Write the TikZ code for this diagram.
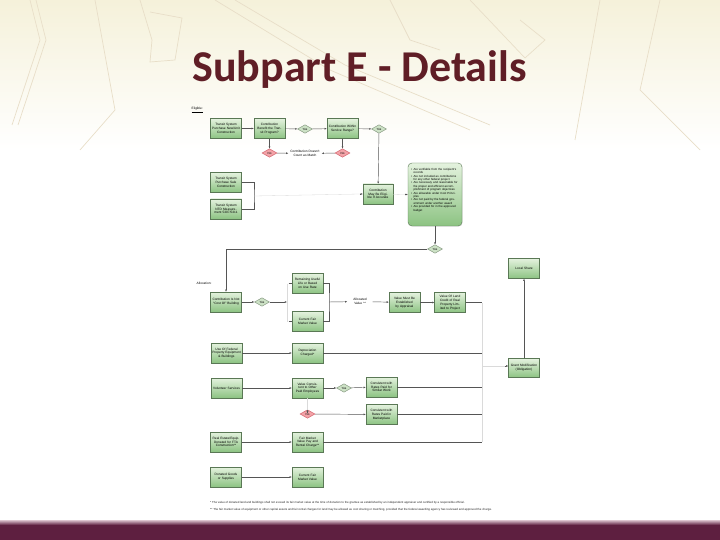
\documentclass[tikz,border=0pt]{standalone}
\usepackage{fontspec}
\setmainfont{Liberation Sans}
\newfontfamily\titlefont{Carlito}
\usetikzlibrary{shapes.geometric,arrows.meta,shadows}
\definecolor{titlecol}{RGB}{96,30,38}
\definecolor{barcol}{RGB}{94,31,64}
\definecolor{barlight}{RGB}{222,196,208}
\definecolor{cream}{RGB}{245,241,218}
\definecolor{maplines}{RGB}{232,222,200}
\definecolor{boxtop}{RGB}{228,242,222}
\definecolor{boxbot}{RGB}{140,195,130}
\definecolor{boxborder}{RGB}{90,120,85}
\definecolor{diafill}{RGB}{205,226,198}
\definecolor{diaborder}{RGB}{120,140,115}
\definecolor{pinkfill}{RGB}{243,163,168}
\definecolor{pinkborder}{RGB}{205,85,96}
\definecolor{linecol}{RGB}{85,85,85}
\begin{document}
\begin{tikzpicture}[x=1pt,y=-1pt,
  gbox/.style={draw=boxborder, line width=0.4pt, top color=boxtop, bottom color=boxbot,
    minimum width=31pt, minimum height=20pt, inner sep=0.5pt, text width=29pt, align=center,
    font=\fontsize{3.2}{3.8}\selectfont, text=black,
    drop shadow={opacity=0.25, shadow xshift=0.6pt, shadow yshift=-0.6pt}},
  gdia/.style={diamond, aspect=1.9, draw=diaborder, fill=diafill, line width=0.4pt,
    inner sep=0.2pt, minimum width=15pt, minimum height=8.5pt,
    font=\fontsize{3}{3}\selectfont},
  pdia/.style={gdia, draw=pinkborder, fill=pinkfill},
  lbl/.style={font=\fontsize{3.2}{3.8}\selectfont, align=center, inner sep=0.5pt},
  ed/.style={draw=linecol, line width=0.45pt},
  arr/.style={ed, -{Latex[length=2.2pt,width=2pt]}},
  faint/.style={draw=linecol!22, line width=0.3pt},
  mapline/.style={draw=maplines, line width=0.7pt}
]
\useasboundingbox (0,0) rectangle (720,540);
% background
\fill[white] (0,0) rectangle (720,540);
\shade[top color=cream, bottom color=white] (0,0) rectangle (720,150);
\draw[mapline] (12,125) -- (40,40) -- (30,0);
\draw[mapline] (18,125) -- (46,40) -- (36,0);
\draw[mapline] (140,0) -- (152,40) -- (150,62) -- (175,60) -- (182,18) -- (150,12);
\draw[mapline] (215,0) -- (330,70) -- (470,130);
\draw[mapline] (235,0) -- (345,65) -- (490,125);
\draw[mapline] (470,0) -- (525,58) -- (545,40) -- (520,20);
\draw[mapline] (600,0) -- (575,140);
\draw[mapline] (660,0) -- (640,90) -- (700,150);
\draw[mapline] (95,0) -- (115,110) -- (80,150);
\draw[mapline] (390,0) -- (410,40) -- (440,50);
% bottom bar
\shade[top color=barlight, bottom color=barcol] (0,520) rectangle (720,525);
\fill[barcol] (0,525) rectangle (720,540);
% title
\node[anchor=base, font=\titlefont\bfseries\fontsize{44}{44}\selectfont, text=titlecol, inner sep=0]
  (title) at (359.5,82) {Subpart E - Details};

% ---- Eligible section
\node[anchor=west, lbl] (elig) at (191,110) {\underline{Eligible:}};
\node[gbox] (b1) at (226,128.5) {Transit System Purchase New/Unit Construction};
\node[gbox] (b2) at (269.5,128.5) {Contribution Benefit the Transit Program?};
\node[gdia] (d1) at (305,129) {Yes};
\node[gbox] (b3) at (342.5,128.5) {Contribution Within Service Range?};
\node[gdia] (d2) at (379,129) {Yes};
\node[pdia] (p1) at (269.5,153) {No};
\node[lbl, text width=32pt] (nomatch) at (305,153.5) {Contribution Doesn't Count as Match};
\node[pdia] (p2) at (342.5,153) {No};
\node[gbox] (b4) at (226,182.5) {Transit System Purchase Sale Construction};
\node[gbox] (b5) at (226,209) {Transit System NTD Measurement 5307/5311};
\node[gbox, minimum width=30pt] (b6) at (378,194) {Contribution May Be Eligible If Accurate};
\node[draw=boxborder, line width=0.4pt, top color=boxtop, bottom color=boxbot, rounded corners=4pt,
  minimum width=54pt, minimum height=63pt, drop shadow={opacity=0.25, shadow xshift=0.6pt, shadow yshift=-0.6pt}]
  (big) at (435,194.5) {};
\node[anchor=north, text width=48pt, align=left, inner sep=0, font=\fontsize{2.9}{3.4}\selectfont]
  (bigtext) at (435,168) {%
  \hangindent=2.5pt\hangafter=1\noindent\makebox[2.5pt][l]{\textbullet}Are verifiable from the recipient's records\par
  \hangindent=2.5pt\hangafter=1\noindent\makebox[2.5pt][l]{\textbullet}Are not included as contributions for any other federal project\par
  \hangindent=2.5pt\hangafter=1\noindent\makebox[2.5pt][l]{\textbullet}Are necessary and reasonable for the proper and efficient accomplishment of program objectives\par
  \hangindent=2.5pt\hangafter=1\noindent\makebox[2.5pt][l]{\textbullet}Are allowable under Cost Principles\par
  \hangindent=2.5pt\hangafter=1\noindent\makebox[2.5pt][l]{\textbullet}Are not paid by the federal government under another award\par
  \hangindent=2.5pt\hangafter=1\noindent\makebox[2.5pt][l]{\textbullet}Are provided for in the approved budget\par};
\node[gdia] (d3) at (435,249) {Yes};
\node[gbox] (local) at (524,268.5) {Local Share};

\draw[arr] (b1) -- (b2);
\draw[arr] (b2) -- (d1);
\draw[arr] (d1) -- (b3);
\draw[arr] (b3) -- (d2);
\draw[arr] (b2) -- (p1);
\draw[arr] (b3) -- (p2);
\draw[arr] (p1) -- (nomatch);
\draw[arr] (p2) -- (nomatch);
\draw[arr] (d2) -- (b6);
\coordinate (br1) at (254,196);
\draw[ed] (b4.east) -| (br1) |- (b5.east);
\draw[faint] (br1) -- ([xshift=-3pt]b6.west);
\draw[arr] ([xshift=-3pt]b6.west) -- (b6.west);
\draw[faint] (b6) -- ([xshift=-3pt]big.west);
\draw[arr] ([xshift=-3pt]big.west) -- (big.west);
\draw[arr] (big) -- (d3);

% ---- Allocation section
\node[anchor=west, lbl] (alloc) at (196,283) {Allocation:};
\node[gbox] (b7) at (226,302) {Contribution Is Not ``Cost Of'' Building};
\node[gdia] (d4) at (262,302) {Yes};
\coordinate (sp) at (287,302);
\node[gbox] (b8) at (307.5,283.5) {Remaining Useful Life or Based on Use Rate};
\node[gbox] (b9) at (307.5,321.5) {Current Fair Market Value};
\coordinate (br2) at (329,302);
\node[lbl, text width=24pt] (allocv) at (360,301.5) {Allocated Value **};
\node[gbox] (b10) at (404.5,302.5) {Value Must Be Established by Appraisal};
\node[gbox] (b11) at (450,302.5) {Value Of Land Credit of Real Property Limited to Project};
\node[gbox, minimum height=19pt] (grant) at (524,368) {Grant Modification (Obligation)};

\draw[arr] (d3) -| (b7);
\draw[arr] (b7) -- (d4);
\draw[arr] (d4) -- (sp);
\draw[faint] (sp |- b8) -- (sp |- b9);
\draw[ed] (sp |- b8) ++(1.5,0) -- (b8.west);
\draw[ed] (sp |- b9) ++(1.5,0) -- (b9.west);
\draw[ed] (b8.east) -| (br2) |- (b9.east);
\draw[arr] (br2) -- (allocv);
\draw[arr] (allocv) -- (b10);
\draw[arr] (b10) -- (b11);
\draw[arr] (grant) -- (local);

% ---- lower rows
\node[gbox] (b12) at (226.5,353) {Use Of Federal Property Equipment \& Buildings};
\node[gbox] (b13) at (307.5,353) {Depreciation Charged*};
\node[gbox] (b14) at (226.5,388) {Volunteer Services};
\node[gbox] (b15) at (307.5,388) {Value Consistent to Other Paid Employees};
\node[gdia] (d5) at (344,388) {Yes};
\node[gbox] (b16) at (381.5,387) {Consistent with Rates Paid for Similar Work};
\node[pdia] (p3) at (307.5,414) {No};
\node[gbox] (b17) at (381.5,414.5) {Consistent with Rates Paid in Marketplace};
\node[gbox] (b18) at (226,442) {Real Estate/Equip. Donated for FTA Construction**};
\node[gbox] (b19) at (307.5,442) {Fair Market Value Pay and Rental Charge**};
\node[gbox] (b20) at (226,477) {Donated Goods or Supplies};
\node[gbox] (b21) at (307.5,477) {Current Fair Market Value};

\draw[arr] (b12) -- (b13);
\draw[arr] (b14) -- (b15);
\draw[arr] (b15) -- (d5);
\draw[arr] (d5) -- (b16);
\draw[faint] (b15) -- ([yshift=-3pt]p3.north);
\draw[arr] ([yshift=-3pt]p3.north) -- (p3.north);
\draw[arr] (p3) -- (b17);
\draw[arr] (b18) -- (b19);
\draw[arr] (b20) -- (b21);

% collector bus
\coordinate (bus) at (482,366);
\draw[ed] (b11.east) -- (b11.east -| bus);
\draw[ed] (b13.east) -- (b13.east -| bus);
\draw[ed] (b16.east) -- (b16.east -| bus);
\draw[ed] (b17.east) -- (b17.east -| bus);
\draw[ed] (b19.east) -- (b19.east -| bus);
\draw[faint] (b11.east -| bus) -- (b19.east -| bus);
\draw[faint] (bus) -- ([xshift=-3pt]grant.west |- bus);
\draw[arr] ([xshift=-3pt]grant.west |- bus) -- (grant.west |- bus);

% footnotes
\node[anchor=west, inner sep=0, font=\fontsize{2.9}{3.2}\selectfont, text=black!85] (fn1) at (210,503)
  {* The value of donated land and buildings shall not exceed its fair market value at the time of donation to the grantee as established by an independent appraiser and certified by a responsible official.};
\node[anchor=west, inner sep=0, font=\fontsize{2.9}{3.2}\selectfont, text=black!85] (fn2) at (210,510)
  {** The fair market value of equipment or other capital assets and fair rental charges for land may be allowed as cost sharing or matching, provided that the federal awarding agency has reviewed and approved the charge.};
\end{tikzpicture}
\end{document}
